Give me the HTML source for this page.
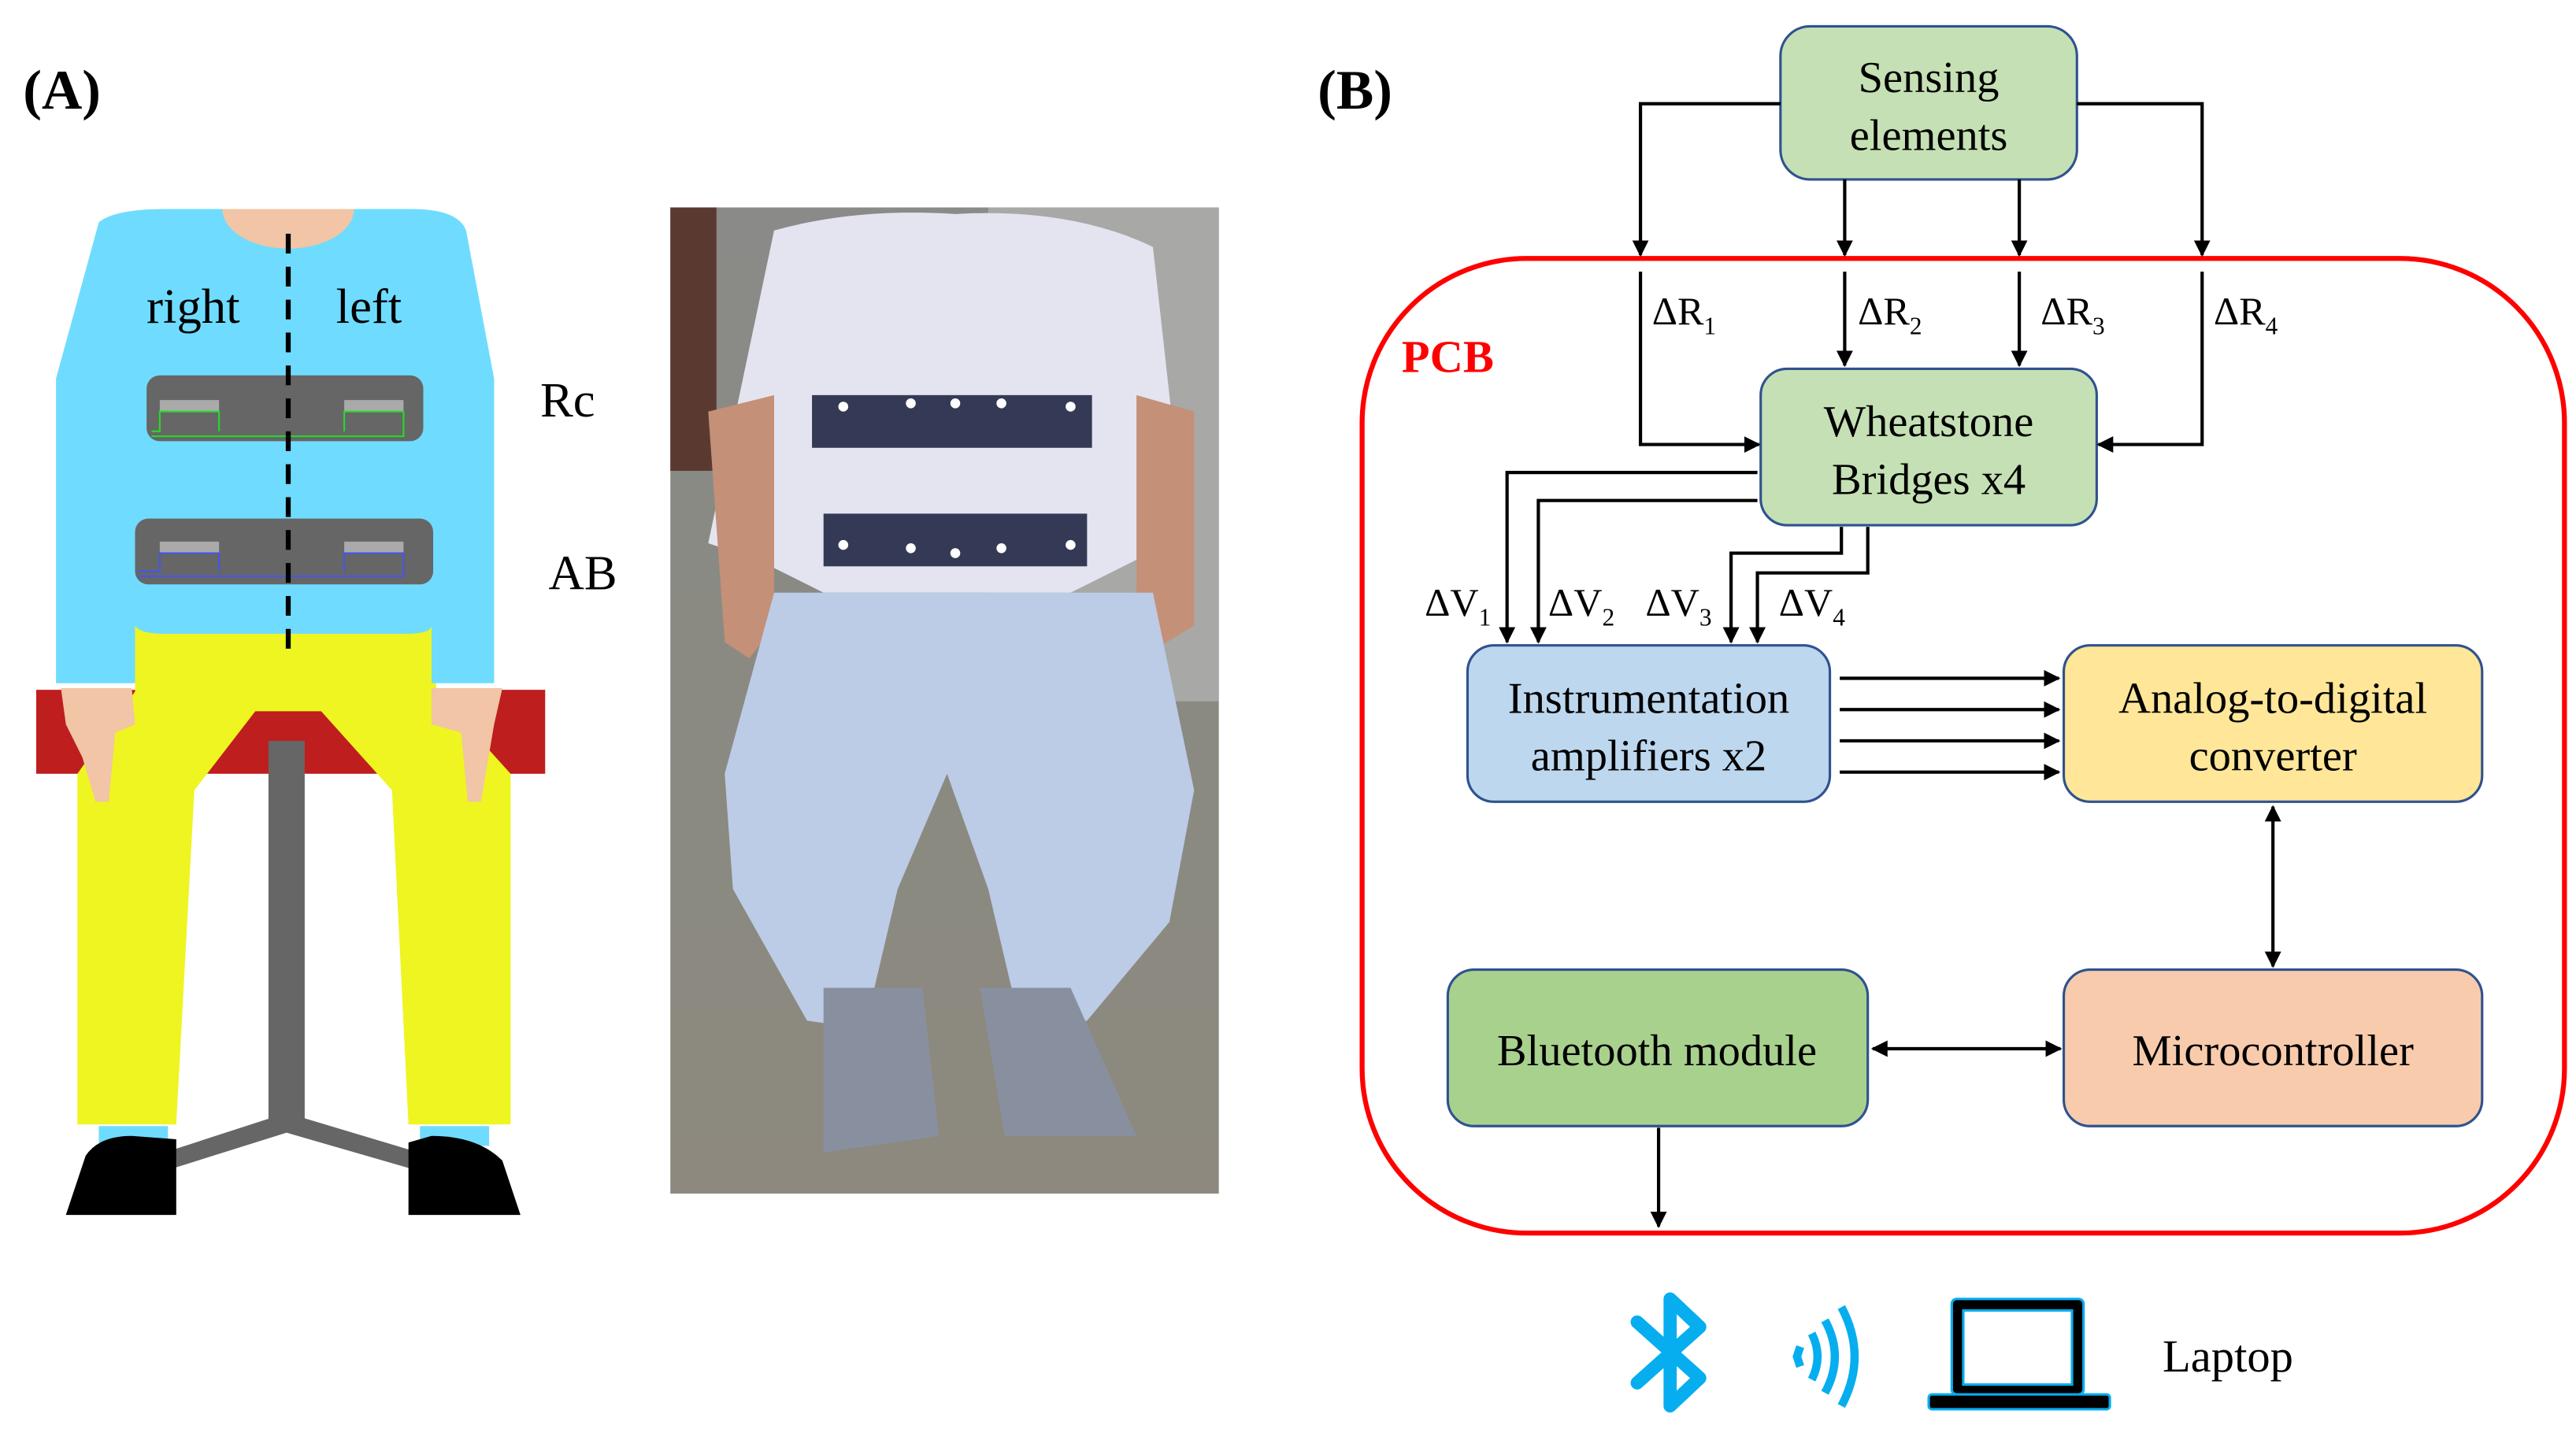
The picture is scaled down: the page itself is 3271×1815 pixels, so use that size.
<!DOCTYPE html>
<html><head><meta charset="utf-8"><style>
html,body{margin:0;padding:0;background:#fff}
svg{display:block}
text{font-family:"Liberation Serif",serif}
</style></head><body>
<svg width="3271" height="1815" viewBox="0 0 1564 868" preserveAspectRatio="none" xmlns="http://www.w3.org/2000/svg">
<defs>
<marker id="a" viewBox="0 0 10 10" refX="9" refY="5" markerWidth="5" markerHeight="5" orient="auto-start-reverse"><path d="M0,0 L10,5 L0,10 z" fill="#000"/></marker>
<linearGradient id="ph" x1="0" y1="0" x2="0" y2="1">
<stop offset="0" stop-color="#8a8a88"/><stop offset="0.5" stop-color="#8a8a82"/><stop offset="1" stop-color="#8d897e"/></linearGradient>
</defs>
<rect width="1564" height="868" fill="#fff"/>
<!-- Panel A -->
<text x="14" y="66" font-size="34" font-weight="bold">(A)</text>
<rect x="22" y="419" width="309" height="51" fill="#be1e1e"/>
<polygon points="82,380 263,380 265,420 310,470 310,683 248,683 238,480 195,432 155,432 118,480 107,683 47,683 47,470 82,420" fill="#eef520"/>
<path d="M60,135 Q70,127 100,127 L250,127 Q278,127 283,140 L300,230 L300,415 L262,415 L262,380 Q262,385 245,385 L100,385 Q85,385 82,380 L82,415 L34,415 L34,230 Z" fill="#6fdcff"/>
<path d="M135,127 A40,24 0 0 0 215,127 Z" fill="#f1c5a5"/>
<path d="M37,418 L80,418 L82,440 L70,445 L66,487 L58,487 L50,460 L40,440 Z" fill="#f1c5a5"/>
<path d="M262,418 L305,418 L300,440 L292,487 L284,487 L280,445 L262,440 Z" fill="#f1c5a5"/>
<rect x="163" y="450" width="22" height="230" fill="#666"/>
<path d="M174,676 L100,700 L104,710 L174,688 L250,710 L254,700 Z" fill="#666"/>
<rect x="60" y="684" width="42" height="12" fill="#6fdcff"/><rect x="255" y="684" width="42" height="12" fill="#6fdcff"/>
<path d="M52,702 Q60,690 80,690 L107,692 L107,738 L40,738 Z" fill="#000"/>
<path d="M262,690 Q290,690 305,705 L316,738 L248,738 L248,694 Z" fill="#000"/>
<rect x="89" y="228" width="168" height="40" rx="8" fill="#666"/>
<rect x="97" y="243" width="36" height="7" fill="#aaa"/><rect x="209" y="243" width="36" height="7" fill="#aaa"/>
<path d="M92,262 L97,262 L97,250 L133,250 L133,262 M92,265 L245,265 L245,250 L209,250 L209,262" stroke="#22dd22" stroke-width="1" fill="none"/>
<rect x="82" y="315" width="181" height="40" rx="8" fill="#666"/>
<rect x="97" y="329" width="36" height="7" fill="#aaa"/><rect x="209" y="329" width="36" height="7" fill="#aaa"/>
<path d="M84,347 L97,347 L97,336 L133,336 L133,347 M84,350 L245,350 L245,336 L209,336 L209,347" stroke="#4455ee" stroke-width="1" fill="none"/>
<line x1="175" y1="142" x2="175" y2="400" stroke="#000" stroke-width="3" stroke-dasharray="12,8"/>
<text x="89" y="196" font-size="30">right</text>
<text x="204" y="196" font-size="30">left</text>
<text x="328" y="253" font-size="30">Rc</text>
<text x="333" y="358" font-size="30">AB</text>
<!-- photo approx -->
<rect x="407" y="126" width="333" height="599" fill="url(#ph)"/>
<rect x="407" y="126" width="28" height="160" fill="#5a3a30"/>
<rect x="600" y="126" width="140" height="300" fill="#a8a8a6"/>
<path d="M470,140 Q520,126 580,130 Q650,126 700,150 L720,330 L690,340 L650,360 L500,360 L460,340 L430,330 Z" fill="#e4e4f0"/>
<path d="M430,250 L470,240 L470,380 L455,400 L440,390 Z" fill="#c49078"/>
<path d="M690,240 L725,250 L725,380 L700,395 L690,370 Z" fill="#c49078"/>
<rect x="493" y="240" width="170" height="32" fill="#343a55"/>
<rect x="500" y="312" width="160" height="32" fill="#343a55"/>
<g fill="#fff"><circle cx="512" cy="247" r="3"/><circle cx="553" cy="245" r="3"/><circle cx="580" cy="245" r="3"/><circle cx="608" cy="245" r="3"/><circle cx="650" cy="247" r="3"/>
<circle cx="512" cy="331" r="3"/><circle cx="553" cy="333" r="3"/><circle cx="580" cy="336" r="3"/><circle cx="608" cy="333" r="3"/><circle cx="650" cy="331" r="3"/></g>
<path d="M470,360 L700,360 L725,480 L710,560 L660,620 L620,625 L600,540 L575,470 L545,540 L525,625 L490,620 L445,540 L440,470 Z" fill="#bccbe6"/>
<path d="M500,600 L560,600 L570,690 L500,700 Z" fill="#8890a0"/>
<path d="M595,600 L650,600 L690,690 L610,690 Z" fill="#8890a0"/>
<!-- Panel B -->
<text x="800" y="66" font-size="34" font-weight="bold">(B)</text>
<rect x="827" y="157" width="730" height="592" rx="100" fill="none" stroke="#ff0000" stroke-width="3"/>
<text x="851" y="226" font-size="28" font-weight="bold" fill="#ff0000">PCB</text>
<g stroke="#2f528f" stroke-width="1.5">
<rect x="1081" y="16" width="180" height="93" rx="18" fill="#c5e0b4"/>
<rect x="1069" y="224" width="204" height="95" rx="16" fill="#c5e0b4"/>
<rect x="891" y="392" width="220" height="95" rx="16" fill="#bdd7ee"/>
<rect x="1253" y="392" width="254" height="95" rx="16" fill="#ffe699"/>
<rect x="1253" y="589" width="254" height="95" rx="16" fill="#f8cbad"/>
<rect x="879" y="589" width="255" height="95" rx="16" fill="#a9d18e"/>
</g>
<g font-size="27" text-anchor="middle">
<text x="1171" y="56">Sensing</text><text x="1171" y="91">elements</text>
<text x="1171" y="265">Wheatstone</text><text x="1171" y="300">Bridges x4</text>
<text x="1001" y="433">Instrumentation</text><text x="1001" y="468">amplifiers x2</text>
<text x="1380" y="433">Analog-to-digital</text><text x="1380" y="468">converter</text>
<text x="1380" y="647">Microcontroller</text>
<text x="1006" y="647">Bluetooth module</text>
</g>
<g stroke="#000" stroke-width="2" fill="none" marker-end="url(#a)">
<path d="M1081,63 L996,63 L996,155"/>
<path d="M1120,109 L1120,155"/>
<path d="M1226,109 L1226,155"/>
<path d="M1261,63 L1337,63 L1337,155"/>
<path d="M996,165 L996,270 L1068,270"/>
<path d="M1120,165 L1120,222"/>
<path d="M1226,165 L1226,222"/>
<path d="M1337,165 L1337,270 L1274,270"/>
<path d="M1067,287 L915,287 L915,390"/>
<path d="M1067,304 L934,304 L934,390"/>
<path d="M1118,320 L1118,336 L1051,336 L1051,390"/>
<path d="M1134,320 L1134,348 L1067,348 L1067,390"/>
<path d="M1117,412 L1250,412"/><path d="M1117,431 L1250,431"/>
<path d="M1117,450 L1250,450"/><path d="M1117,469 L1250,469"/>
<path d="M1380,490 L1380,587" marker-start="url(#a)"/>
<path d="M1137,637 L1251,637" marker-start="url(#a)"/>
<path d="M1007,685 L1007,745"/>
</g>
<g font-size="24">
<text x="1003" y="197">ΔR<tspan font-size="15" dy="6">1</tspan></text>
<text x="1128" y="197">ΔR<tspan font-size="15" dy="6">2</tspan></text>
<text x="1239" y="197">ΔR<tspan font-size="15" dy="6">3</tspan></text>
<text x="1344" y="197">ΔR<tspan font-size="15" dy="6">4</tspan></text>
<text x="865" y="374">ΔV<tspan font-size="15" dy="6">1</tspan></text>
<text x="940" y="374">ΔV<tspan font-size="15" dy="6">2</tspan></text>
<text x="999" y="374">ΔV<tspan font-size="15" dy="6">3</tspan></text>
<text x="1080" y="374">ΔV<tspan font-size="15" dy="6">4</tspan></text>
</g>
<!-- icons -->
<path d="M994,803 L1032,837 L1014,854 L1014,789 L1032,806 L994,840" fill="none" stroke="#06aeef" stroke-width="8" stroke-linejoin="round" stroke-linecap="round"/>
<g fill="none" stroke="#06aeef" stroke-width="5">
<path d="M1093,818 L1091,824 L1093,830"/>
<path d="M1100,810 Q1107,824 1100,838"/>
<path d="M1108,802 Q1120,824 1108,846"/>
<path d="M1118,794 Q1134,824 1118,854"/>
</g>
<rect x="1185" y="789" width="80" height="58" rx="3" fill="#000" stroke="#06aeef" stroke-width="1.5"/>
<rect x="1192" y="796" width="66" height="45" fill="#fff" stroke="#06aeef" stroke-width="1.5"/>
<rect x="1171" y="847" width="110" height="9" rx="2" fill="#000" stroke="#06aeef" stroke-width="1.5"/>
<text x="1313" y="833" font-size="28">Laptop</text>
</svg>
</body></html>
